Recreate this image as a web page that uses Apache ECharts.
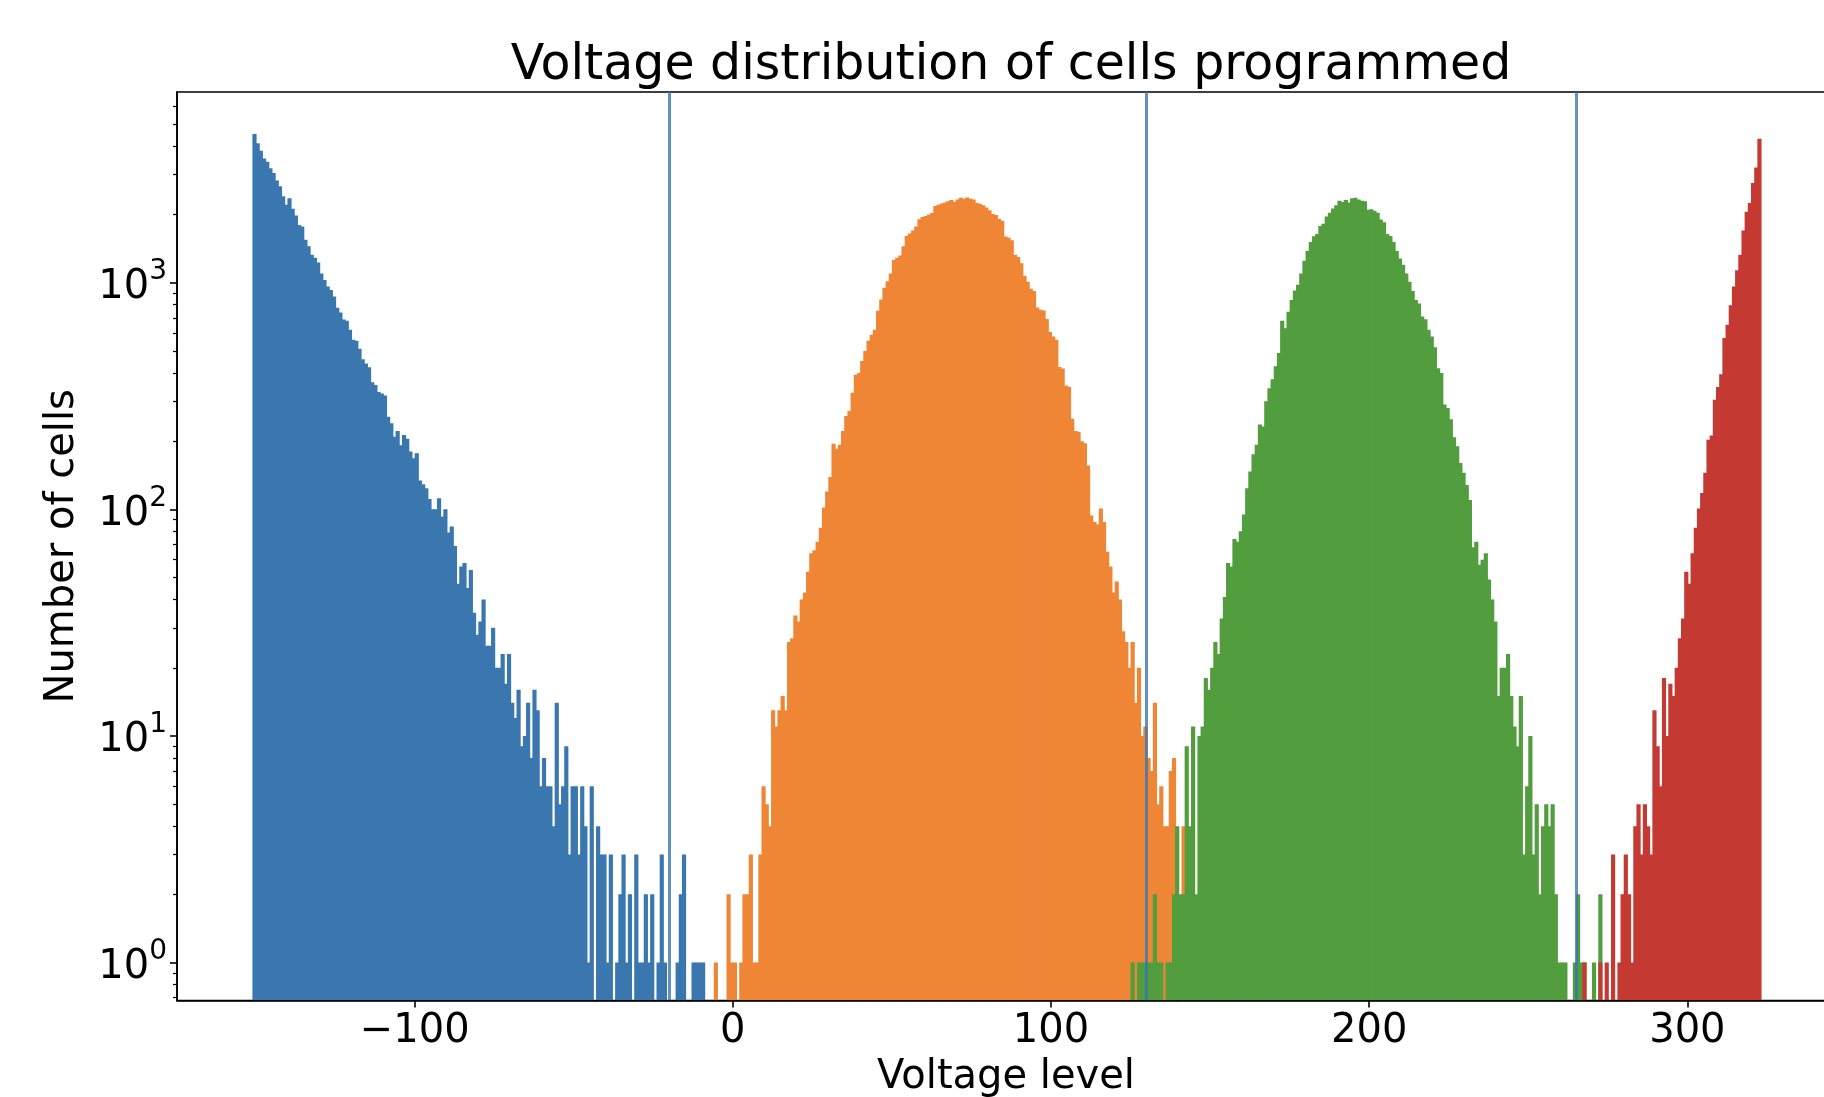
<!DOCTYPE html>
<html>
<head>
<meta charset="utf-8">
<script src="https://cdn.jsdelivr.net/npm/echarts@6.0.0/dist/echarts.min.js"></script>
<style>
  html, body { margin: 0; padding: 0; background: #fff; }
  #chart { width: 1824px; height: 1097px; }
</style>
</head>
<body>
<div id="chart"></div>
<script>
const binWidth = 1;

const blueStart = -151;
const blueCounts = [
  4540, 4130, 3830, 3540, 3425, 3200, 3050, 2830, 2670, 2410,
  2210, 2360, 2120, 1980, 1800, 1770, 1550, 1450, 1330, 1290,
  1230, 1100, 1030, 963, 930, 870, 775, 740, 688, 680,
  621, 561, 555, 512, 460, 440, 424, 364, 354, 330,
  325, 318, 256, 240, 209, 222, 192, 213, 205, 180,
  168, 177, 134, 129, 124, 111, 100, 100, 112, 93,
  100, 79, 84, 69, 47, 56, 58, 45, 54, 35,
  28, 32, 40, 25, 25, 30, 20, 20, 23, 17,
  23, 14, 12, 16, 9, 10, 14, 8, 16, 13,
  6, 8, 6, 6, 4, 14, 5, 6, 9, 3,
  6, 6, 3, 6, 4, 1, 6, 0, 4, 3,
  3, 1, 3, 0, 1, 2, 3, 1, 2, 0,
  3, 1, 1, 2, 1, 2, 0, 1, 3, 1,
  0, 0, 0, 1, 2, 3, 0, 0, 1, 1,
  1, 1
];

const orangeStart = -6;
const orangeCounts = [
  1, 0, 0, 0, 2, 1, 1, 0, 1, 2,
  2, 3, 1, 1, 3, 6, 5, 4, 13, 11,
  13, 15, 13, 26, 27, 34, 32, 40, 43, 53,
  64, 66, 72, 83, 102, 120, 139, 195, 185, 193,
  222, 258, 272, 327, 393, 400, 452, 500, 555, 590,
  620, 752, 843, 950, 1016, 1100, 1260, 1290, 1320, 1450,
  1610, 1650, 1700, 1770, 1905, 1950, 1970, 2000, 2030, 2180,
  2210, 2240, 2260, 2290, 2320, 2280, 2330, 2370, 2350, 2380,
  2350, 2330, 2250, 2230, 2200, 2150, 2090, 2010, 1990, 1910,
  1880, 1600, 1580, 1540, 1330, 1300, 1220, 1073, 1010, 940,
  920, 778, 760, 755, 692, 607, 580, 560, 425, 418,
  352, 348, 251, 222, 220, 200, 196, 156, 94, 88,
  86, 101, 88, 65, 56, 43, 48, 40, 29, 26,
  20, 26, 14, 20, 10, 11, 8, 7, 14, 5,
  6, 4, 4, 7, 8, 0, 0, 4
];

const greenStart = 125;
const greenCounts = [
  1, 0, 1, 1, 1, 1, 1, 2, 1, 1,
  0, 1, 1, 2, 4, 2, 2, 9, 4, 11,
  2, 10, 11, 18, 16, 20, 26, 23, 33, 41,
  58, 56, 74, 72, 80, 95, 124, 147, 175, 193,
  237, 232, 300, 342, 375, 428, 490, 680, 630, 745,
  840, 925, 979, 1100, 1250, 1380, 1515, 1605, 1640, 1780,
  1820, 1960, 2040, 2130, 2200, 2300, 2270, 2320, 2260, 2360,
  2370, 2330, 2300, 2290, 2100, 2110, 2080, 2040, 1900, 1850,
  1640, 1610, 1515, 1380, 1280, 1200, 1100, 1010, 920, 840,
  810, 710, 690, 620, 580, 520, 420, 400, 290, 280,
  250, 208, 190, 160, 145, 128, 110, 68, 72, 57,
  60, 64, 49, 40, 32, 15, 20, 20, 23, 15,
  11, 9, 15, 3, 6, 10, 3, 5, 2, 4,
  5, 4, 5, 2, 1, 1, 1, 0, 0, 1,
  2, 1, 1, 0, 0, 1, 0, 2
];

const redStart = 267;
const redCounts = [
  1, 0, 0, 0, 0, 1, 0, 1, 0, 3,
  0, 1, 2, 3, 2, 1, 4, 5, 3, 5,
  4, 3, 13, 9, 6, 18, 10, 17, 15, 20,
  27, 33, 53, 47, 64, 83, 101, 118, 145, 203,
  212, 305, 347, 395, 570, 652, 795, 963, 1135, 1330,
  1700, 2060, 2250, 2755, 3230, 4325
];

const thresholds = [-20, 130, 265];
const xTicks = [-100, 0, 100, 200, 300];
const yTicks = [1, 10, 100, 1000];
const yMinorTicks = [
  0.7, 0.8, 0.9,
  2, 3, 4, 5, 6, 7, 8, 9,
  20, 30, 40, 50, 60, 70, 80, 90,
  200, 300, 400, 500, 600, 700, 800, 900,
  2000, 3000, 4000, 5000, 6000
];

const FONT = 'DejaVu Sans';
const yMin = 0.68, yMax = 6950;

function toBars(start, counts) {
  const out = [];
  counts.forEach((c, i) => {
    if (c > 0) out.push([start + i * binWidth, c]);
  });
  return out;
}

function histItem(color) {
  return function (params, api) {
    const x = api.value(0), c = api.value(1);
    const top = api.coord([x, c]);
    const right = api.coord([x + binWidth, c]);
    const cs = params.coordSys;
    // a little overlap so neighbouring bins do not leave light seams
    return {
      type: 'rect',
      shape: {
        x: top[0],
        y: top[1],
        width: right[0] - top[0] + 1,
        height: cs.y + cs.height - top[1]
      },
      style: { fill: color }
    };
  };
}

function histSeries(name, start, counts, color) {
  return {
    name: name,
    type: 'custom',
    clip: true,
    renderItem: histItem(color),
    encode: { x: 0, y: 1 },
    data: toBars(start, counts),
    z: 2
  };
}

const chart = echarts.init(document.getElementById('chart'));
chart.setOption({
  animation: false,
  backgroundColor: '#fff',
  textStyle: { fontFamily: FONT },
  title: {
    text: 'Voltage distribution of cells programmed',
    left: 1006,
    top: 37,
    textAlign: 'center',
    textStyle: { fontSize: 49, fontWeight: 'normal', color: '#000', fontFamily: FONT }
  },
  grid: {
    left: 177,
    top: 92,
    width: 1658,
    height: 908.5,
    outerBoundsMode: 'none',
    containLabel: false,
    show: true,
    borderColor: '#000',
    borderWidth: 1.6,
    backgroundColor: 'transparent'
  },
  xAxis: {
    type: 'value',
    min: -174.7,
    max: 346.4,
    z: 10,
    axisLine: { show: true, onZero: false, lineStyle: { color: '#000', width: 1.6 } },
    axisTick: { show: true, length: 7, customValues: xTicks, lineStyle: { color: '#000', width: 1.6 } },
    axisLabel: {
      customValues: xTicks,
      margin: 11,
      fontSize: 40,
      color: '#000',
      fontFamily: FONT,
      formatter: v => (v < 0 ? '\u2212' + Math.abs(v) : String(v))
    },
    splitLine: { show: false },
    name: 'Voltage level',
    nameLocation: 'middle',
    nameGap: 57,
    nameTextStyle: { fontSize: 40, color: '#000', fontFamily: FONT }
  },
  yAxis: [
    {
      type: 'log',
      logBase: 10,
      min: yMin,
      max: yMax,
      position: 'left',
      z: 10,
      axisLine: { show: true, onZero: false, lineStyle: { color: '#000', width: 1.6 } },
      axisTick: { show: true, length: 7, customValues: yTicks, lineStyle: { color: '#000', width: 1.6 } },
      axisLabel: {
        customValues: yTicks,
        margin: 10,
        color: '#000',
        formatter: v => '{b|10}{s|' + Math.round(Math.log10(v)) + '}',
        rich: {
          b: { fontSize: 40, fontFamily: FONT, color: '#000', padding: [10, 0, 0, 0] },
          s: { fontSize: 28, fontFamily: FONT, color: '#000', verticalAlign: 'top' }
        }
      },
      splitLine: { show: false },
      name: 'Number of cells',
      nameLocation: 'middle',
      nameGap: 94,
      nameTextStyle: { fontSize: 40, color: '#000', fontFamily: FONT }
    },
    {
      type: 'log',
      logBase: 10,
      min: yMin,
      max: yMax,
      position: 'left',
      z: 10,
      axisLine: { show: false, onZero: false },
      axisTick: { show: true, length: 4, customValues: yMinorTicks, lineStyle: { color: '#000', width: 1.2 } },
      axisLabel: { show: false },
      splitLine: { show: false }
    }
  ],
  series: [
    histSeries('Erased', blueStart, blueCounts, '#3b77af'),
    histSeries('Level 1', orangeStart, orangeCounts, '#ef8636'),
    histSeries('Level 2', greenStart, greenCounts, '#529d3e'),
    histSeries('Level 3', redStart, redCounts, '#c43a33'),
    {
      name: 'Read thresholds',
      type: 'line',
      data: [],
      z: 5,
      markLine: {
        silent: true,
        symbol: 'none',
        animation: false,
        label: { show: false },
        lineStyle: { color: '#3b77af', width: 3, opacity: 0.8, type: 'solid' },
        data: thresholds.map(v => ({ xAxis: v }))
      }
    }
  ]
});
</script>
</body>
</html>
